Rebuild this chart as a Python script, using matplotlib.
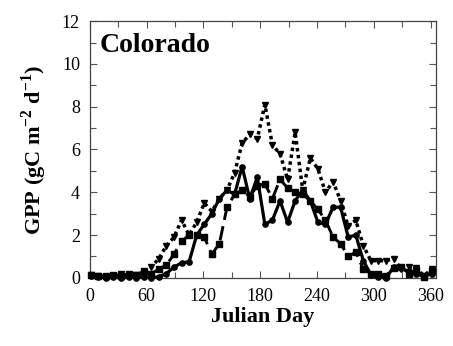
import numpy as np
import matplotlib
matplotlib.use('Agg')
import matplotlib.pyplot as plt
from matplotlib.ticker import MultipleLocator

plt.rcParams['font.family'] = ['Liberation Serif', 'DejaVu Serif']
plt.rcParams['mathtext.fontset'] = 'custom'
plt.rcParams['mathtext.rm'] = 'Liberation Serif:bold'
plt.rcParams['mathtext.bf'] = 'Liberation Serif:bold'

# 8-day composite periods
days = np.arange(1, 366, 8)

gpp_solid = [0.10, 0.05, 0.00, 0.05, 0.00, 0.05, 0.00, 0.05, 0.00, 0.05,
             0.20, 0.50, 0.70, 0.75, 2.00, 2.50, 3.00, 3.70, 4.10, 3.90,
             5.20, 3.70, 4.70, 2.50, 2.70, 3.60, 2.60, 3.60, 4.10, 3.60,
             2.60, 2.50, 3.30, 3.30, 1.90, 2.00, 0.80, 0.15, 0.05, 0.00,
             0.50, 0.45, 0.30, 0.20, 0.05, 0.20]

gpp_dashed = [0.15, 0.10, 0.10, 0.15, 0.10, 0.20, 0.15, 0.30, 0.20, 0.40,
              0.60, 1.10, 1.70, 2.00, 2.00, 1.90, 1.10, 1.60, 3.30, 3.90,
              4.10, 3.80, 4.30, 4.40, 3.70, 4.60, 4.20, 4.00, 3.90, 3.60,
              3.20, 2.70, 1.90, 1.60, 1.00, 1.20, 0.40, 0.20, 0.20, 0.10,
              0.45, 0.50, 0.20, 0.35, 0.05, 0.30]

gpp_dotted = [0.15, 0.10, 0.05, 0.10, 0.20, 0.10, 0.15, 0.20, 0.50, 0.90,
              1.50, 1.90, 2.70, 2.00, 2.60, 3.50, 3.10, 3.70, 4.10, 4.90,
              6.30, 6.70, 6.50, 8.10, 6.20, 5.80, 4.60, 6.80, 4.10, 5.60,
              5.10, 4.00, 4.50, 3.60, 2.40, 2.70, 1.50, 0.80, 0.80, 0.80,
              0.90, 0.40, 0.50, 0.45, 0.10, 0.40]

fig = plt.figure(figsize=(4.53, 3.46), dpi=100)
ax = fig.add_axes([0.198, 0.197, 0.765, 0.742])

ax.plot(days, gpp_solid, '-', color='black', lw=2.3, marker='o', ms=3.8,
        clip_on=False, zorder=3)
ax.plot(days, gpp_dashed, color='black', lw=2.1, ls=(0, (5, 2.2)),
        marker='s', ms=4.0, clip_on=False, zorder=3)
ax.plot(days, gpp_dotted, color='black', lw=2.5, ls=(0, (1, 1.0)),
        marker='v', ms=5, clip_on=False, zorder=3)

ax.set_xlim(0, 366)
ax.set_ylim(0, 12)
ax.xaxis.set_major_locator(MultipleLocator(60))
ax.xaxis.set_minor_locator(MultipleLocator(30))
ax.yaxis.set_major_locator(MultipleLocator(2))
ax.yaxis.set_minor_locator(MultipleLocator(1))
ax.tick_params(which='both', direction='in', top=True, right=True,
               labelsize=13, width=0.8, color='#555555')
ax.tick_params(which='major', length=5, pad=7)
ax.tick_params(which='minor', length=4)
for s in ax.spines.values():
    s.set_linewidth(0.9)
    s.set_color('#444444')

ax.set_xlabel('Julian Day', fontsize=16, fontweight='bold', labelpad=2)
ax.set_ylabel(r'GPP (gC m$^{\mathbf{-2}}$ d$^{\mathbf{-1}}$)', fontsize=16,
              fontweight='bold', labelpad=9)
ax.text(0.03, 0.955, 'Colorado', transform=ax.transAxes, fontsize=20,
        fontweight='bold', va='top', ha='left')

fig.savefig('out.png', dpi=100)
